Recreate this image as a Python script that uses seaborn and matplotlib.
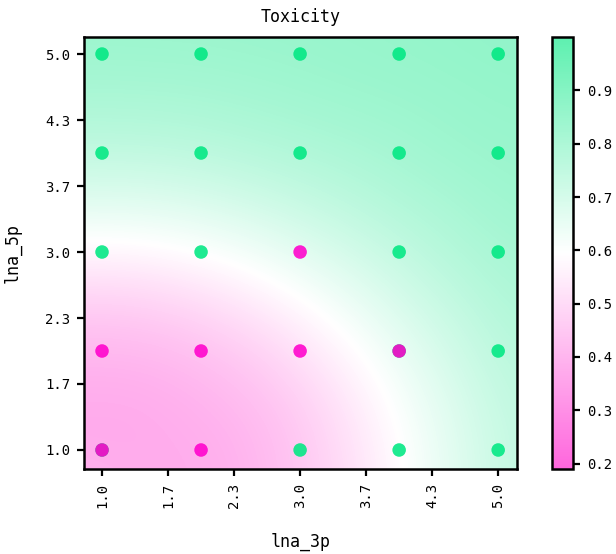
import numpy as np
import pandas as pd
import matplotlib
matplotlib.use("Agg")
import matplotlib.pyplot as plt
from matplotlib.colors import LinearSegmentedColormap
import seaborn as sns

# ---- data -------------------------------------------------------------
# observed experiments (x = lna_3p, y = lna_5p, outcome 1 = green, 0 = magenta)
lna_3p = [1, 2, 3, 4, 5,  1, 2, 3, 4, 5,  1, 2, 4, 5,  5, 4,  3, 4, 5, 1,
          1, 2, 3, 4,  1, 2, 3]
lna_5p = [5, 5, 5, 5, 5,  4, 4, 4, 4, 4,  3, 3, 3, 3,  2, 2,  1, 1, 1, 1,
          2, 2, 2, 2,  1, 1, 3]
outcome = [1, 1, 1, 1, 1,  1, 1, 1, 1, 1,  1, 1, 1, 1,  1, 1,  1, 1, 1, 1,
           0, 0, 0, 0,  0, 0, 0]

# model surface (predicted toxicity) on a 9 x 9 grid, rows = lna_5p
grid_3p = [0.8, 1.35, 1.9, 2.45, 3.0, 3.55, 4.1, 4.65, 5.2]
grid_5p = [0.8, 1.35, 1.9, 2.45, 3.0, 3.55, 4.1, 4.65, 5.2]
surface = [
    [0.385, 0.380, 0.375, 0.395, 0.443, 0.517, 0.600, 0.681, 0.747],
    [0.370, 0.370, 0.385, 0.407, 0.456, 0.533, 0.613, 0.690, 0.752],
    [0.397, 0.398, 0.415, 0.449, 0.505, 0.575, 0.649, 0.717, 0.770],
    [0.462, 0.465, 0.488, 0.527, 0.578, 0.638, 0.699, 0.751, 0.794],
    [0.571, 0.573, 0.591, 0.621, 0.664, 0.708, 0.751, 0.791, 0.815],
    [0.679, 0.680, 0.692, 0.714, 0.741, 0.769, 0.797, 0.817, 0.838],
    [0.762, 0.763, 0.770, 0.784, 0.798, 0.811, 0.827, 0.843, 0.849],
    [0.813, 0.814, 0.817, 0.824, 0.833, 0.842, 0.847, 0.853, 0.860],
    [0.844, 0.845, 0.846, 0.848, 0.851, 0.855, 0.859, 0.865, 0.870],
]

tick_values = [1.0, 1.6667, 2.3333, 3.0, 3.6667, 4.3333, 5.0]
tick_labels = ["1.0", "1.7", "2.3", "3.0", "3.7", "4.3", "5.0"]
cbar_ticks = [0.2, 0.3, 0.4, 0.5, 0.6, 0.7, 0.8, 0.9]
cbar_labels = ["0.2", "0.3", "0.4", "0.5", "0.6", "0.7", "0.8", "0.9"]

# ---- style ------------------------------------------------------------
sns.set_theme(style="white")
plt.rcParams["font.family"] = ["DejaVu Sans Mono", "DejaVu Sans"]

df = pd.DataFrame({"lna_3p": lna_3p, "lna_5p": lna_5p, "Toxicity": outcome})
df = df.sort_values("Toxicity", ascending=False, kind="stable")

cmap = LinearSegmentedColormap.from_list("tox", ["#ff66dd", "#ffffff", "#5ef0b0"])
vmin, vmax = 0.19, 1.0

fig = plt.figure(figsize=(6.16, 5.54), dpi=100)
ax = fig.add_axes([84 / 616, 85 / 554, 433 / 616, 432 / 554])
cax = fig.add_axes([552 / 616, 85 / 554, 21 / 616, 432 / 554])

gx = np.array(grid_3p)
gy = np.array(grid_5p)
hx = (gx[1] - gx[0]) / 2
hy = (gy[1] - gy[0]) / 2
im = ax.imshow(np.array(surface), origin="lower", cmap=cmap, vmin=vmin, vmax=vmax,
               extent=[gx[0] - hx, gx[-1] + hx, gy[0] - hy, gy[-1] + hy],
               interpolation="bicubic", aspect="auto", zorder=0)

sns.scatterplot(data=df, x="lna_3p", y="lna_5p", hue="Toxicity",
                palette={1: "#00e882", 0: "#ff00cc"}, s=95, alpha=0.88,
                edgecolor="none", linewidth=0, legend=False, ax=ax, zorder=3)

ax.set_xlim(0.818, 5.19)
ax.set_ylim(0.808, 5.172)
ax.set_xticks(tick_values)
ax.set_xticklabels(tick_labels, rotation=90)
ax.set_yticks(tick_values)
ax.set_yticklabels(tick_labels)
ax.tick_params(axis="both", length=5, width=1.6, color="black", labelsize=10,
               pad=5, labelcolor="black", bottom=True, left=True)
for sp in ax.spines.values():
    sp.set_color("black")
    sp.set_linewidth(1.8)

ax.set_title("Toxicity", fontsize=12, pad=11, color="black")
ax.set_xlabel("lna_3p", fontsize=12, labelpad=18, color="black")
ax.set_ylabel("lna_5p", fontsize=12, labelpad=17, color="black")

cb = fig.colorbar(im, cax=cax)
cb.set_ticks(cbar_ticks)
cb.set_ticklabels(cbar_labels)
cb.ax.tick_params(length=5, width=1.6, color="black", labelsize=10, pad=5,
                  labelcolor="black")
cb.outline.set_color("black")
cb.outline.set_linewidth(1.8)

fig.savefig("out.png", dpi=100)
